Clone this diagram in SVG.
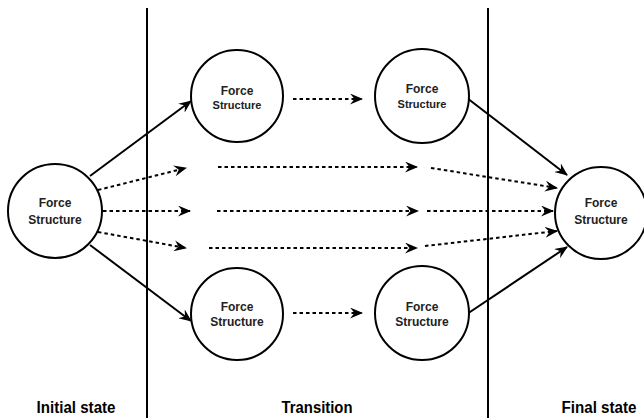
<svg xmlns="http://www.w3.org/2000/svg" width="644" height="418" viewBox="0 0 644 418">
<style>
.node{fill:#fff;stroke:#000;stroke-width:2}
.lbl{font-family:"Liberation Sans",Arial,sans-serif;font-weight:bold;font-size:12px;fill:#222;text-anchor:middle}
.sec{font-family:"Liberation Sans",Arial,sans-serif;font-weight:bold;font-size:16px;fill:#000;text-anchor:middle}
.solid{fill:none;stroke:#000;stroke-width:2;marker-end:url(#ah)}
.dash{fill:none;stroke:#000;stroke-width:2;stroke-dasharray:3.5 3;marker-end:url(#ah)}
.div{stroke:#000;stroke-width:2}
</style>
<defs>
<marker id="ah" viewBox="0 0 13 11" refX="12" refY="5.5" markerWidth="13" markerHeight="11" markerUnits="userSpaceOnUse" orient="auto">
<path d="M0,0 L13,5.5 L0,11 L4.5,5.5 z" fill="#000"/>
</marker>
</defs>
<g id="dividers">
<line class="div" x1="147" y1="8" x2="147" y2="418"/>
<line class="div" x1="488" y1="8" x2="488" y2="418"/>
</g>
<g id="connectors">
<line class="solid" x1="90" y1="176" x2="191" y2="101"/>
<line class="solid" x1="90" y1="245" x2="191" y2="321"/>
<line class="dash" x1="98" y1="190" x2="186" y2="168"/>
<line class="dash" x1="103" y1="211" x2="190" y2="211"/>
<line class="dash" x1="98" y1="232" x2="186" y2="248"/>
<line class="dash" x1="218" y1="167" x2="417" y2="167"/>
<line class="dash" x1="217" y1="211" x2="418" y2="211"/>
<line class="dash" x1="209" y1="248" x2="417" y2="248"/>
<line class="dash" x1="431" y1="168" x2="557" y2="188"/>
<line class="dash" x1="427" y1="211" x2="553" y2="211"/>
<line class="dash" x1="425" y1="246" x2="557" y2="231"/>
<line class="dash" x1="293" y1="99" x2="362" y2="99"/>
<line class="dash" x1="293" y1="313" x2="362" y2="313"/>
<line class="solid" x1="467" y1="98" x2="567" y2="175"/>
<line class="solid" x1="467" y1="314" x2="567" y2="247"/>
</g>
<g id="initial">
<circle class="node" cx="55" cy="211" r="47"/>
<text class="lbl" x="55" y="207">Force</text>
<text class="lbl" x="55" y="224">Structure</text>
</g>
<g id="transition-top-1">
<circle class="node" cx="237" cy="96" r="46"/>
<text class="lbl" x="237" y="95">Force</text>
<text class="lbl" x="237" y="109" style="font-size:11px">Structure</text>
</g>
<g id="transition-top-2">
<circle class="node" cx="422" cy="96" r="47"/>
<text class="lbl" x="422" y="93">Force</text>
<text class="lbl" x="422" y="108" style="font-size:11px">Structure</text>
</g>
<g id="transition-bottom-1">
<circle class="node" cx="237" cy="314" r="46"/>
<text class="lbl" x="237" y="311">Force</text>
<text class="lbl" x="237" y="326">Structure</text>
</g>
<g id="transition-bottom-2">
<circle class="node" cx="422" cy="313" r="47"/>
<text class="lbl" x="422" y="311">Force</text>
<text class="lbl" x="422" y="326">Structure</text>
</g>
<g id="final">
<circle class="node" cx="601" cy="213" r="46"/>
<text class="lbl" x="601" y="207">Force</text>
<text class="lbl" x="601" y="224">Structure</text>
</g>
<g id="section-labels">
<text class="sec" x="76" y="413" textLength="79" lengthAdjust="spacingAndGlyphs">Initial state</text>
<text class="sec" x="317" y="413" textLength="71" lengthAdjust="spacingAndGlyphs">Transition</text>
<text class="sec" x="599" y="413" textLength="75" lengthAdjust="spacingAndGlyphs">Final state</text>
</g>
</svg>
